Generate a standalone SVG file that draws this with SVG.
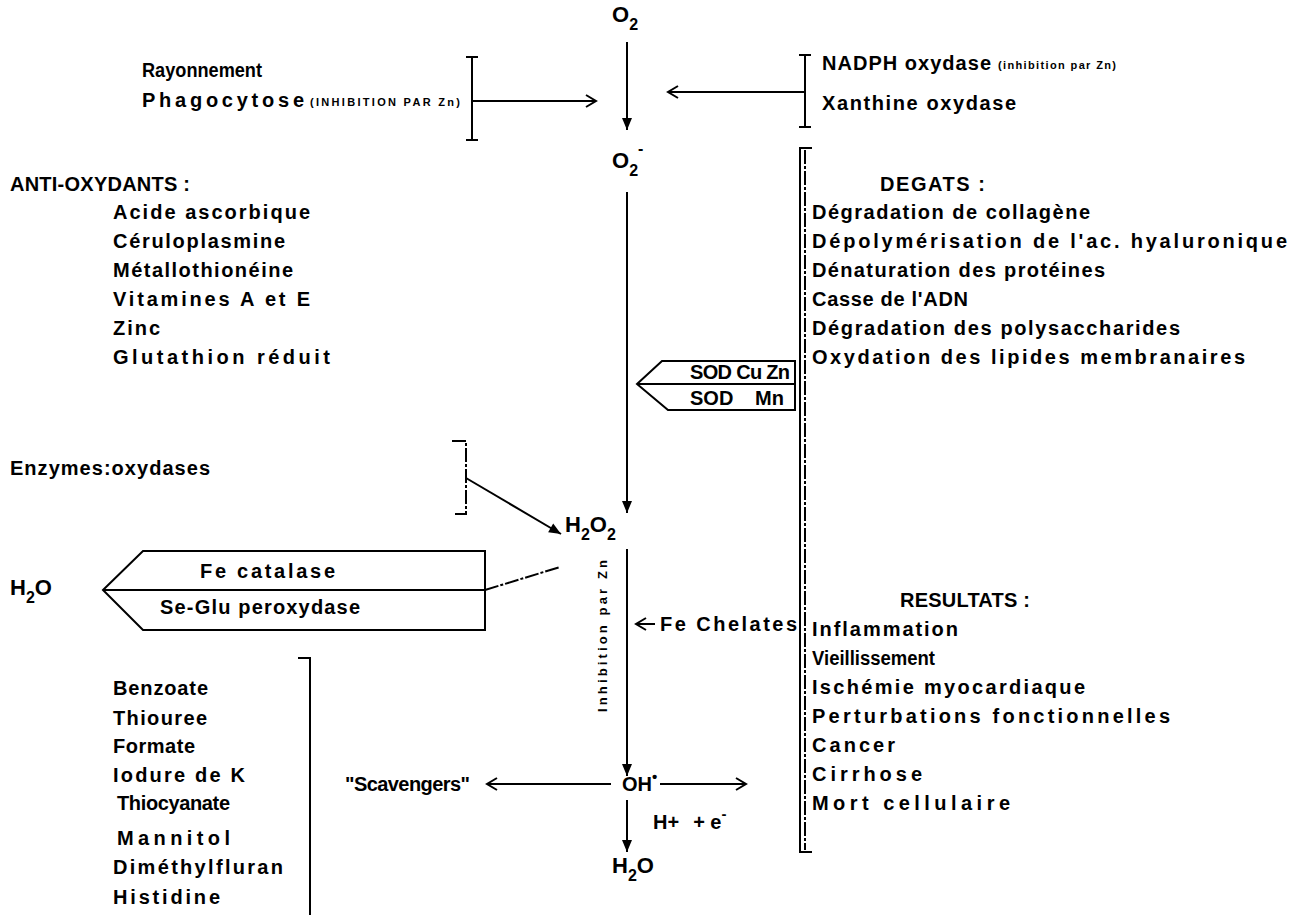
<svg xmlns="http://www.w3.org/2000/svg" width="1291" height="923" viewBox="0 0 1291 923">
<style>
.t{font-family:"Liberation Sans",Arial,sans-serif;font-weight:bold;font-size:20px;fill:#000}
.f{font-family:"Liberation Sans",Arial,sans-serif;font-weight:bold;font-size:22px;fill:#000}
.s{font-family:"Liberation Sans",Arial,sans-serif;font-weight:bold;font-size:11px;fill:#000}
.v{font-family:"Liberation Sans",Arial,sans-serif;font-weight:bold;font-size:13px;fill:#000}
.ln{stroke:#000;stroke-width:2;fill:none}
.dl{stroke:#000;stroke-width:2;fill:none;stroke-dasharray:14 2 3 2}
.box{stroke:#000;stroke-width:2;fill:#fff}
</style>
<defs>
<marker id="open" markerUnits="userSpaceOnUse" markerWidth="16" markerHeight="16" viewBox="0 0 16 16" refX="14" refY="8" orient="auto">
<path d="M4,2 L14,8 L4,14" fill="none" stroke="#000" stroke-width="2"/>
</marker>
<marker id="fill" markerUnits="userSpaceOnUse" markerWidth="14" markerHeight="14" viewBox="0 0 14 14" refX="13" refY="7" orient="auto">
<path d="M1,2 L13,7 L1,12 Z" fill="#000"/>
</marker>
</defs>
<rect width="1291" height="923" fill="#fff"/>

<g id="connectors">
<line class="ln" x1="627" y1="42" x2="627" y2="130" marker-end="url(#fill)"/>
<path class="ln" d="M466,57 H478 M472,57 V140 M466,140 H478"/>
<line class="ln" x1="472" y1="101" x2="596" y2="101" marker-end="url(#open)"/>
<path class="ln" d="M799,55 H811 M805,55 V127 M799,127 H811"/>
<line class="ln" x1="805" y1="92" x2="668" y2="92" marker-end="url(#open)"/>
<line class="ln" x1="627" y1="192" x2="627" y2="513" marker-end="url(#fill)"/>
<path class="dl" d="M452,441 H466 V514 H455"/>
<line class="ln" x1="466" y1="478" x2="561" y2="534" marker-end="url(#fill)"/>
<path class="dl" d="M485,590 L560,567"/>
<line class="ln" x1="627" y1="549" x2="627" y2="776" marker-end="url(#fill)"/>
<line class="ln" x1="655" y1="624" x2="636" y2="624" marker-end="url(#open)"/>
<line class="ln" x1="611" y1="784" x2="487" y2="784" marker-end="url(#open)"/>
<line class="ln" x1="660" y1="784" x2="746" y2="784" marker-end="url(#open)"/>
<line class="ln" x1="627" y1="800" x2="627" y2="852" marker-end="url(#fill)"/>
<path class="ln" d="M298,658 H310 V915"/>
</g>

<g id="o2-top">
<text class="f" x="612" y="22">O<tspan font-size="16" dy="8">2</tspan></text>
</g>

<g id="sources-left">
<text class="t" x="142" y="77" textLength="120" lengthAdjust="spacingAndGlyphs">Rayonnement</text>
<text class="t" x="142" y="107" textLength="162">Phagocytose</text>
<text class="s" x="310" y="106" textLength="150">(INHIBITION PAR Zn)</text>
</g>

<g id="sources-right">
<text class="t" x="822" y="70" textLength="169">NADPH oxydase</text>
<text class="s" x="998" y="69" textLength="118">(inhibition par Zn)</text>
<text class="t" x="822" y="110" textLength="194">Xanthine oxydase</text>
</g>

<g id="superoxide">
<text class="f" x="612" y="168">O<tspan font-size="16" dy="8">2</tspan><tspan dy="-22" font-size="16">-</tspan></text>
</g>

<g id="antioxydants">
<text class="t" x="10" y="191" textLength="180">ANTI-OXYDANTS :</text>
<text class="t" x="113" y="219" textLength="197">Acide ascorbique</text>
<text class="t" x="113" y="248" textLength="172">Céruloplasmine</text>
<text class="t" x="113" y="277" textLength="180">Métallothionéine</text>
<text class="t" x="113" y="306" textLength="197">Vitamines A et E</text>
<text class="t" x="113" y="335" textLength="47">Zinc</text>
<text class="t" x="113" y="364" textLength="217">Glutathion réduit</text>
</g>

<g id="sod">
<path class="box" d="M637,384 L662,361 H795 V410 H668 Z"/>
<line class="ln" x1="637" y1="384" x2="795" y2="384"/>
<text class="t" x="690" y="379" textLength="100">SOD Cu Zn</text>
<text class="t" y="405"><tspan x="690">SOD</tspan><tspan x="755">Mn</tspan></text>
</g>

<g id="degats">
<path class="ln" d="M812,148 H800 V852 H812"/>
<line class="dl" x1="805" y1="150" x2="805" y2="850"/>
<text class="t" x="880" y="191" textLength="105">DEGATS :</text>
<text class="t" x="812" y="219" textLength="278">Dégradation de collagène</text>
<text class="t" x="812" y="248" textLength="475">Dépolymérisation de l'ac. hyaluronique</text>
<text class="t" x="812" y="277" textLength="293">Dénaturation des protéines</text>
<text class="t" x="812" y="306" textLength="156">Casse de l'ADN</text>
<text class="t" x="812" y="335" textLength="368">Dégradation des polysaccharides</text>
<text class="t" x="812" y="364" textLength="433">Oxydation des lipides membranaires</text>
<text class="t" x="900" y="607" textLength="130">RESULTATS :</text>
<text class="t" x="812" y="636" textLength="146">Inflammation</text>
<text class="t" x="812" y="665" textLength="123" lengthAdjust="spacingAndGlyphs">Vieillissement</text>
<text class="t" x="812" y="694" textLength="273">Ischémie myocardiaque</text>
<text class="t" x="812" y="723" textLength="358">Perturbations fonctionnelles</text>
<text class="t" x="812" y="752" textLength="83">Cancer</text>
<text class="t" x="812" y="781" textLength="110">Cirrhose</text>
<text class="t" x="812" y="810" textLength="198">Mort cellulaire</text>
</g>

<g id="enzymes">
<text class="t" x="10" y="475" textLength="200">Enzymes:oxydases</text>
</g>

<g id="h2o2">
<text class="f" x="565" y="532">H<tspan font-size="16" dy="8">2</tspan><tspan dy="-8">O</tspan><tspan font-size="16" dy="8">2</tspan></text>
</g>

<g id="catalase">
<path class="box" d="M103,590 L143,551 H485 V630 H143 Z"/>
<line class="ln" x1="103" y1="590" x2="485" y2="590"/>
<text class="t" x="200" y="578" textLength="135">Fe catalase</text>
<text class="t" x="160" y="614" textLength="200">Se-Glu peroxydase</text>
</g>

<g id="h2o-left">
<text class="f" x="10" y="595">H<tspan font-size="16" dy="8">2</tspan><tspan dy="-8">O</tspan></text>
</g>

<g id="inhibition">
<text class="v" x="0" y="0" transform="translate(607,636) rotate(-90)" text-anchor="middle" textLength="152">Inhibition par Zn</text>
</g>

<g id="fe-chelates">
<text class="t" x="660" y="631" textLength="137">Fe Chelates</text>
</g>

<g id="oh">
<text class="t" x="622" y="791">OH<tspan font-size="15" dy="-9">•</tspan></text>
</g>

<g id="scavengers">
<text class="t" x="345" y="791" textLength="125">"Scavengers"</text>
</g>

<g id="scavenger-list">
<text class="t" x="113" y="695" textLength="95">Benzoate</text>
<text class="t" x="113" y="725" textLength="94">Thiouree</text>
<text class="t" x="113" y="753" textLength="82">Formate</text>
<text class="t" x="113" y="782" textLength="132">Iodure de K</text>
<text class="t" x="117" y="810" textLength="113">Thiocyanate</text>
<text class="t" x="117" y="845" textLength="113">Mannitol</text>
<text class="t" x="113" y="874" textLength="170">Diméthylfluran</text>
<text class="t" x="113" y="904" textLength="107">Histidine</text>
</g>

<g id="h-plus">
<text class="t" x="653" y="829">H+<tspan dx="14">+ e</tspan><tspan font-size="15" dy="-10">-</tspan></text>
</g>

<g id="h2o-bottom">
<text class="f" x="612" y="873">H<tspan font-size="16" dy="8">2</tspan><tspan dy="-8">O</tspan></text>
</g>
</svg>
